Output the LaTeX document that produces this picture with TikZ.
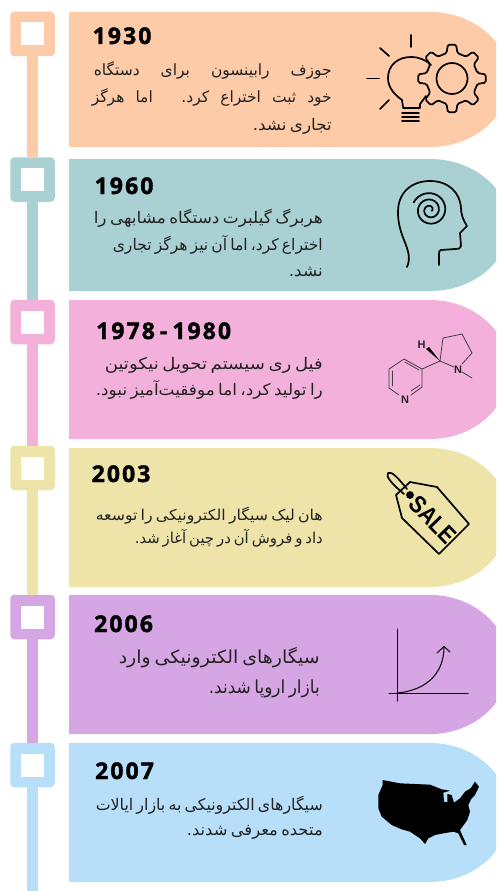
\documentclass[tikz,border=0pt]{standalone}
\usepackage{fontspec}
\usepackage{graphicx}
\TeXXeTstate=1
\newfontfamily\fafont[Script=Arabic]{DejaVu Sans}
\newfontfamily\yearfont[LetterSpace=9,BoldFeatures={FakeBold=1.6}]{Open Sans}
\newfontfamily\iconfont{Liberation Sans}
\definecolor{cPeach}{HTML}{FECBA9}
\definecolor{cTeal}{HTML}{A9D1D4}
\definecolor{cPink}{HTML}{F3B0DB}
\definecolor{cYellow}{HTML}{EEE4A9}
\definecolor{cPurple}{HTML}{D6A5E4}
\definecolor{cBlue}{HTML}{B7DFF9}
\definecolor{cInk}{HTML}{222222}
\tikzset{
  marker/.style={fill=#1,draw=none,rounded corners=4pt,minimum size=44.5pt,inner sep=0pt,outer sep=0pt},
  hole/.style={fill=white,draw=none,minimum size=23pt,inner sep=0pt},
  stem/.style={draw=#1,line width=11pt},
  yearlabel/.style={anchor=base west,inner sep=0pt,font=\yearfont\fontsize{23}{23}\selectfont\bfseries,text=black},
  faline/.style={anchor=base east,inner sep=0pt,text=cInk},
  icon/.style={draw=black,line width=1.7pt,line cap=round,line join=round},
  thinicon/.style={draw=black!75,line width=.8pt,line cap=round,line join=round},
  atomlabel/.style={inner sep=0pt,font=\iconfont\bfseries\fontsize{11}{11}\selectfont,text=black!85}
}
% fitted Persian line: [size], width, text
\newcommand{\fitfa}[3][16]{\resizebox{#2pt}{\height}{\fontsize{#1}{18}\fafont\spaceskip=.2em\relax #3}}
% justified Persian line: width, text
\newcommand{\justfa}[2]{\hbox to #1pt{\fontsize{15.5}{18}\fafont\spaceskip=.2em plus 1fil\relax #2}}
\newcommand{\cardpath}[3]{% color, top, bottom
  \pgfmathsetmacro{\midy}{(#2+#3)/2}
  \pgfmathsetmacro{\cta}{\midy-(#3-#2)/2*0.5523}
  \pgfmathsetmacro{\ctb}{\midy+(#3-#2)/2*0.5523}
  \fill[#1] (69,#2) -- (430,#2) .. controls (473.6,#2) and (509,\cta) .. (509,\midy)
     .. controls (509,\ctb) and (473.6,#3) .. (430,#3) -- (69,#3) -- cycle;
}
\begin{document}
\begin{tikzpicture}[x=1pt,y=-1pt]
\clip (0,0) rectangle (496,891);
\fill[white] (0,0) rectangle (496,891);
% cards
\cardpath{cPeach}{12}{147}
\cardpath{cTeal}{159}{291}
\cardpath{cPink}{300}{439}
\cardpath{cYellow}{448}{587}
\cardpath{cPurple}{595}{734}
\cardpath{cBlue}{743}{882}
% markers
\coordinate (end) at (32.5,900);
\node[marker=cPeach] (m1) at (32.5,34) {};
\node[marker=cTeal] (m2) at (32.5,179.5) {};
\node[marker=cPink] (m3) at (32.5,322) {};
\node[marker=cYellow] (m4) at (32.5,468) {};
\node[marker=cPurple] (m5) at (32.5,617) {};
\node[marker=cBlue] (m6) at (32.5,765) {};
\draw[stem=cPeach] (m1.south) -- (m2.north);
\draw[stem=cTeal] (m2.south) -- (m3.north);
\draw[stem=cPink] (m3.south) -- (m4.north);
\draw[stem=cYellow] (m4.south) -- (m5.north);
\draw[stem=cPurple] (m5.south) -- (m6.north);
\draw[stem=cBlue] (m6.south) -- (end);
\node[hole] (h1) at (m1.center) {};
\node[hole] (h2) at (m2.center) {};
\node[hole] (h3) at (m3.center) {};
\node[hole] (h4) at (m4.center) {};
\node[hole] (h5) at (m5.center) {};
\node[hole] (h6) at (m6.center) {};
% years
\node[yearlabel] (y1) at (92.5,44) {1930};
\node[yearlabel] (y2) at (94.5,194) {1960};
\node[yearlabel] (y3) at (96,339) {1978\hspace{5pt}-\hspace{5pt}1980};
\node[yearlabel] (y4) at (91.5,482) {2003};
\node[yearlabel] (y5) at (94,632) {2006};
\node[yearlabel] (y6) at (95,779) {2007};
% texts
\node[faline] (a1) at (332,75) {\justfa{238}{\beginR جوزف رابینسون برای دستگاه\endR}};
\node[faline] (a2) at (332,102) {\justfa{240}{\beginR خود ثبت اختراع کرد. اما هرگز\endR}};
\node[faline] (a3) at (332,130) {\fitfa{79}{\beginR تجاری نشد.\endR}};
\node[faline] (b1) at (323,223) {\fitfa{229}{\beginR هربرگ گیلبرت دستگاه مشابهی را\endR}};
\node[faline] (b2) at (323,250) {\fitfa{210}{\beginR اختراع کرد، اما آن نیز هرگز تجاری\endR}};
\node[faline] (b3) at (323,276) {\fitfa{34}{\beginR نشد.\endR}};
\node[faline] (c1) at (323,369) {\fitfa{218}{\beginR فیل ری سیستم تحویل نیکوتین\endR}};
\node[faline] (c2) at (323,395) {\fitfa{227}{\beginR را تولید کرد، اما موفقیت‌آمیز نبود.\endR}};
\node[faline] (d1) at (323,520) {\fitfa[15]{227}{\beginR هان لیک سیگار الکترونیکی را توسعه\endR}};
\node[faline] (d2) at (323,543) {\fitfa[15]{188}{\beginR داد و فروش آن در چین آغاز شد.\endR}};
\node[faline] (e1) at (320,663) {\fitfa[18]{201}{\beginR سیگارهای الکترونیکی وارد\endR}};
\node[faline] (e2) at (320,693) {\fitfa[18]{111}{\beginR بازار اروپا شدند.\endR}};
\node[faline] (f1) at (323,810) {\fitfa{227}{\beginR سیگارهای الکترونیکی به بازار ایالات\endR}};
\node[faline] (f2) at (323,835) {\fitfa{136}{\beginR متحده معرفی شدند.\endR}};
% bulb and gear
\draw[icon] (410.7,35) -- (410.7,47);
\draw[icon] (380,48) -- (389,56);
\draw[icon] (367,78.5) -- (379,78.5);
\draw[icon] (380,109) -- (389,100);
\draw[icon] (403,107) -- (402,100) .. controls (395,95) and (388,88) .. (388,78)
  .. controls (388,65) and (398,57) .. (411,57) .. controls (419,57) and (426,60) .. (431,65);
\draw[icon] (403,108) -- (420,108) -- (420,104) -- (426,96);
\draw[icon] (402,113) -- (419,113);
\draw[icon] (402,117) -- (419,117);
\draw[icon] (402,121) -- (419,121);
\begin{scope}[shift={(452,78.5)}]
\draw[icon,rounded corners=1.5pt] (-12:26)
  \foreach \a in {0,45,...,315} {
    -- (\a-12:26) -- (\a-7:34) -- (\a+7:34) -- (\a+12:26)
  } -- cycle;
\draw[icon] (0,0) circle[radius=15.5];
\end{scope}
% head
\draw[icon] (407,267) .. controls (411,258) and (408,250) .. (404,240)
  .. controls (400,230) and (398,222) .. (398,212)
  .. controls (398,192) and (412,181) .. (430,181)
  .. controls (448,181) and (460,192) .. (461,208)
  .. controls (461,214) and (463,220) .. (467,226)
  -- (460,233) -- (461,246) .. controls (461,249) and (458,249) .. (455,249)
  -- (441,250) .. controls (439,250) and (439,252) .. (439,255) -- (439,265);
\draw[icon,smooth,samples=80,domain=0:1] plot ({430+(2+16*(1-\x))*cos(205+900*\x)},{210+(2+16*(1-\x))*sin(205+900*\x)});
% nicotine
\draw[thinicon] (399,395) -- (389,388) -- (389,369) -- (404,359) -- (422,369) -- (422,387) -- (411,395);
\draw[thinicon] (392,386) -- (392,371);
\draw[thinicon] (405,362) -- (419,370);
\draw[thinicon] (420,385) -- (411,391);
\draw[thinicon] (422,369) -- (440,361) -- (443,338) -- (462,334) -- (472,353) -- (462,364);
\draw[thinicon] (440,361) -- (454,367);
\draw[thinicon] (462,372) -- (472,378);
\fill[black] (440,361) -- (426,349) -- (429,347) -- cycle;
\node[atomlabel] (n1) at (405,399.5) {N};
\node[atomlabel] (n2) at (458,369.5) {N};
\node[atomlabel] (n3) at (421.5,345) {H};
% sale tag
\draw[icon] (410,482) -- (437,487) -- (469,524) -- (439,554) -- (402,518) -- (396,495) -- cycle;
\draw[icon,fill=black] (410,495) circle[radius=3];
\draw[icon] (407,489) .. controls (398,478) and (392,471) .. (388,473) .. controls (385,476) and (392,484) .. (404,494);
\node[inner sep=0pt,rotate=-46,text=black] (sale) at (433,520) {\resizebox{56pt}{17pt}{\iconfont\bfseries SALE}};
% chart
\draw[icon,line width=1pt] (397,629) -- (397,701);
\draw[icon,line width=1pt] (389,693) -- (468,693);
\draw[icon,line width=1pt] (397,693) .. controls (430,690) and (444,670) .. (444,647);
\draw[icon,line width=1pt] (437,653) -- (444,646.5) -- (450,652);
% map
\begin{scope}[shift={(360,770)},x=.3333pt,y=-.3333pt]
\fill[black] (68,30) -- (120,40) -- (210,44) -- (245,58) -- (270,62) -- (250,68) -- (252,95) -- (262,97) -- (262,72) -- (275,75) -- (282,98) -- (300,85) -- (315,65) -- (332,55) -- (345,35) -- (357,50) -- (345,75) -- (335,85) -- (325,105) -- (330,125) -- (322,150) -- (300,180) -- (320,225) -- (312,225) -- (295,190) -- (280,185) -- (250,190) -- (225,195) -- (205,205) -- (195,222) -- (180,205) -- (150,185) -- (125,178) -- (95,165) -- (65,140) -- (55,115) -- (55,75) -- (68,45) -- cycle;
\end{scope}
\end{tikzpicture}
\end{document}
